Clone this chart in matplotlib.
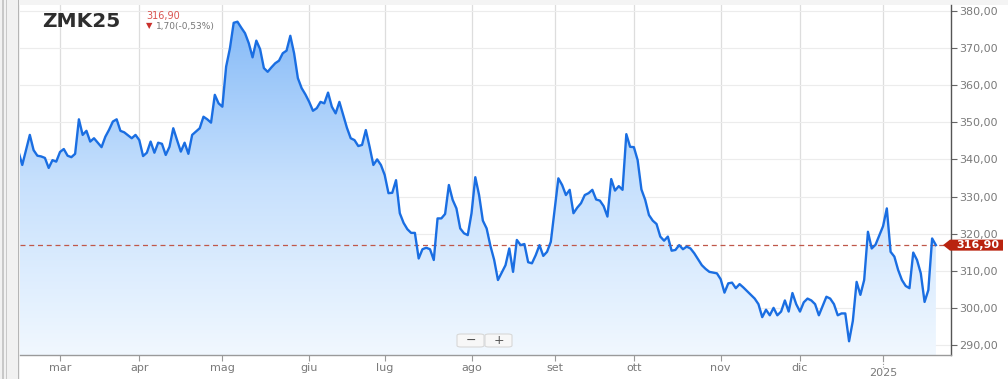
import numpy as np
import pandas as pd
import matplotlib
matplotlib.use("Agg")
import matplotlib.pyplot as plt
import matplotlib.colors as mcolors
from matplotlib.patches import Rectangle, Polygon, FancyBboxPatch
from matplotlib.transforms import blended_transform_factory, ScaledTranslation

# ---------------- data ----------------
title = "ZMK25"
last_price = 316.90
last_price_label = "316,90"
change_label = "1,70(-0,53%)"
start_date = "2024-02-15"

prices = [
    342.1, 338.5, 342.5, 346.6, 342.5, 341.0, 340.8, 340.4, 337.7, 339.8, 339.4,
    342.0, 342.8, 341.0, 340.6, 341.5, 350.8, 346.6, 347.7, 344.8, 345.7,
    344.5, 343.3, 346.1, 348.0, 350.2, 350.8, 347.7, 347.3, 346.5, 345.7,
    346.6, 345.2, 340.9, 341.8, 344.8, 341.8, 344.5, 344.2, 341.2, 343.4,
    348.4, 345.2, 342.1, 344.5, 341.5, 346.6, 347.5, 348.4, 351.5, 350.8,
    349.9, 357.4, 355.1, 354.2, 365.0, 369.9, 376.8, 377.1, 375.5, 374.0,
    371.3, 367.5, 372.0, 369.7, 364.6, 363.6, 364.8, 365.9, 366.6, 368.6,
    369.3, 373.3, 368.6, 361.9, 359.2, 357.5, 355.5, 353.1, 353.8, 355.5,
    355.1, 358.0, 354.2, 352.4, 355.5, 352.0, 348.5, 345.7, 345.2, 343.6,
    343.9, 347.9, 343.4, 338.5, 340.0, 338.5, 335.8, 330.9, 331.0, 334.4,
    325.5, 322.9, 321.2, 320.2, 320.2, 313.3, 315.8, 316.2, 315.8, 312.9,
    324.1, 324.1, 325.3, 333.1, 329.1, 326.8, 321.4, 320.1, 319.6, 325.5,
    335.2, 330.4, 323.5, 321.4, 316.7, 312.9, 307.5, 309.5, 311.5, 316.0,
    309.7, 318.3, 316.9, 317.2, 312.3, 312.0, 314.2, 316.9, 314.0, 315.1,
    317.8, 326.4, 334.9, 333.1, 330.4, 331.8, 325.5, 327.0, 328.2, 330.4,
    330.9, 331.8, 329.2, 328.9, 327.4, 324.6, 334.7, 331.6, 332.8, 331.8,
    346.8, 343.4, 343.3, 339.8, 331.9, 329.1, 325.0, 323.5, 322.6, 319.2,
    318.1, 319.2, 315.4, 315.6, 316.9, 315.8, 316.5, 316.0, 314.7, 313.1,
    311.5, 310.5, 309.7, 309.5, 309.3, 307.7, 304.1, 306.6, 306.8, 305.3,
    306.4, 305.5, 304.5, 303.5, 302.5, 301.0, 297.5, 299.5, 298.0, 300.0,
    298.0, 299.0, 302.0, 299.0, 304.0, 301.0, 299.0, 301.5, 302.5, 302.0,
    301.0, 298.0, 300.5, 303.0, 302.5, 301.0, 298.0, 298.5, 298.5, 291.0,
    296.5, 307.0, 303.5, 307.5, 320.5, 316.0, 317.0, 319.5, 322.0, 326.8,
    315.1, 313.8, 310.2, 307.5, 305.9, 305.3, 314.9, 312.9, 309.3, 301.6,
    304.8, 318.7, 316.9,
]

month_tick_dates = ["2024-03-01", "2024-04-01", "2024-05-01", "2024-06-03",
                    "2024-07-01", "2024-08-01", "2024-09-02", "2024-10-01",
                    "2024-11-01", "2024-12-02", "2025-01-01"]
month_labels = ["mar", "apr", "mag", "giu", "lug", "ago", "set", "ott",
                "nov", "dic", ""]
year_label = "2025"
y_ticks = [290, 300, 310, 320, 330, 340, 350, 360, 370, 380]

# ---------------- figure ----------------
W, H = 1008, 379
fig = plt.figure(figsize=(W / 100, H / 100), dpi=100)
fig.patch.set_facecolor("white")

def fr(x0, y0, w, h):
    return (x0 / W, 1 - (y0 + h) / H, w / W, h / H)

# page chrome: left frame strip & top strip
for (x0, w, c) in [(0, 20, "#f1f1f1"), (2, 1.5, "#c8c8c8"), (5.5, 1.5, "#c8c8c8"),
                   (17.5, 1.5, "#b5b5b5")]:
    b = fr(x0, 0, w, H)
    fig.add_artist(Rectangle((b[0], b[1]), b[2], b[3], transform=fig.transFigure,
                             facecolor=c, edgecolor="none", zorder=0))
b = fr(19, 0, W - 19, 5)
fig.add_artist(Rectangle((b[0], b[1]), b[2], b[3], transform=fig.transFigure,
                         facecolor="#f4f4f4", edgecolor="none", zorder=0))

ax = fig.add_axes([20 / W, 24 / H, 931 / W, 350 / H])
ax.set_facecolor("white")

dates = pd.bdate_range(start_date, periods=len(prices))
x = np.arange(len(prices))
y = np.array(prices)
tick_pos = [dates.get_loc(pd.Timestamp(d)) for d in month_tick_dates]

ymin, ymax = 287.3, 381.6

# gradient area under the line
poly = ax.fill_between(x, y, ymin, facecolor="none", edgecolor="none")
cmap = mcolors.LinearSegmentedColormap.from_list(
    "g", ["#f1f8ff", "#c6e0fd", "#80b7f7"])
grad = np.linspace(0, 1, 256).reshape(-1, 1)
im = ax.imshow(grad, cmap=cmap, aspect="auto", origin="lower",
               extent=[x[0], x[-1], ymin, ymax], zorder=2, interpolation="bilinear")
im.set_clip_path(poly.get_paths()[0], transform=ax.transData)

ax.plot(x, y, color="#1a6ee2", lw=1.7, zorder=4, solid_joinstyle="round")
ax.axhline(last_price, color="#c0584a", lw=0.9, ls=(0, (4, 3)), zorder=3)

ax.set_xlim(0.4, 247)
ax.set_ylim(ymin, ymax)

for s in ["left", "top"]:
    ax.spines[s].set_visible(False)
ax.spines["right"].set_color("#555555")
ax.spines["right"].set_linewidth(1.0)
ax.spines["bottom"].set_color("#9a9a9a")
ax.spines["bottom"].set_linewidth(1.0)

ax.yaxis.tick_right()
ax.set_yticks(y_ticks)
ax.set_yticklabels([f"{v:.2f}".replace(".", ",") for v in y_ticks])
ax.tick_params(axis="y", length=4, width=0.8, color="#666666", pad=2,
               labelsize=8, labelcolor="#7a7a7a")
ax.set_xticks(tick_pos)
ax.set_xticklabels(month_labels)
ax.tick_params(axis="x", length=4, width=0.8, color="#999999", pad=2,
               labelsize=8, labelcolor="#7a7a7a")

ax.grid(True, axis="x", color="#dddddd", lw=0.9, zorder=1)
ax.grid(True, axis="y", color="#ececec", lw=0.8, zorder=1)
ax.set_axisbelow(True)

# dotted extension under the year tick + year label
btr = blended_transform_factory(ax.transData, ax.transAxes)
ax.plot([tick_pos[-1], tick_pos[-1]], [0, -0.04], transform=btr, clip_on=False,
        color="#999999", lw=0.8, ls=(0, (1, 1.5)))
ax.annotate(year_label, xy=(tick_pos[-1], 0), xycoords=btr, xytext=(0, -13),
            textcoords="offset points", ha="center", va="center",
            fontsize=8, color="#7a7a7a", annotation_clip=False)

# last price tag
base = blended_transform_factory(ax.transAxes, ax.transData)
anchor = fig.dpi_scale_trans + ScaledTranslation(1.0, last_price, base)
tag = Polygon([(-0.08, 0), (-0.01, 0.055), (0.52, 0.055), (0.52, -0.055), (-0.01, -0.055)],
              closed=True, transform=anchor, facecolor="#b9230f", edgecolor="none",
              clip_on=False, zorder=6)
ax.add_artist(tag)
ax.text(0.265, -0.002, last_price_label, transform=anchor, ha="center", va="center",
        color="white", fontsize=8, fontweight="bold", zorder=7, clip_on=False)

# title block
fig.text(42 / W, 1 - 21.5 / H, title, fontsize=14.5, fontweight="bold",
         color="#2e2e2e", ha="left", va="center")
fig.text(146 / W, 1 - 16.5 / H, last_price_label, fontsize=7, color="#d9534f",
         ha="left", va="center")
fig.text(146 / W, 1 - 26 / H, "▼", fontsize=6, color="#c9302c", ha="left", va="center")
fig.text(156 / W, 1 - 26 / H, change_label, fontsize=6.5, color="#777777",
         ha="left", va="center")

# zoom buttons
for (x0, sym) in [(457, "−"), (485, "+")]:
    b = fr(x0, 334, 27, 13)
    fig.add_artist(FancyBboxPatch((b[0], b[1]), b[2], b[3], transform=fig.transFigure,
                                  boxstyle="round,pad=0,rounding_size=0.004",
                                  facecolor="#f7f7f7", edgecolor="#d8d8d8", lw=0.8,
                                  zorder=8))
    fig.text((x0 + 13.5) / W, 1 - 340.5 / H, sym, fontsize=9, color="#555555",
             ha="center", va="center", zorder=9)

fig.savefig("out.png", dpi=100)
